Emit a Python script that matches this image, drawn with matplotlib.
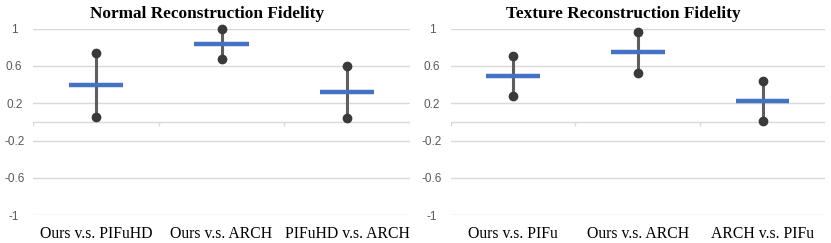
import matplotlib.pyplot as plt

# data
normal_cats = ["Ours v.s. PIFuHD", "Ours v.s. ARCH", "PIFuHD v.s. ARCH"]
normal_mean = [0.40, 0.836, 0.318]
normal_high = [0.743, 0.993, 0.60]
normal_low = [0.05, 0.679, 0.039]

texture_cats = ["Ours v.s. PIFu", "Ours v.s. ARCH", "ARCH v.s. PIFu"]
texture_mean = [0.489, 0.746, 0.225]
texture_high = [0.707, 0.96, 0.436]
texture_low = [0.275, 0.529, 0.011]

yticks = [1, 0.6, 0.2, -0.2, -0.6, -1]
ytick_labels = ["1", "0.6", "0.2", "-0.2", "-0.6", "-1"]

grid_c = "#d9d9d9"
blue = "#4472c4"
err_c = "#5f5f5f"
dot_c = "#3a3a3a"


def draw(ax, title, title_x, cats, mean, high, low):
    x = list(range(len(cats)))
    ax.set_xlim(-0.5, len(cats) - 0.5)
    ax.set_ylim(-1, 1)
    for s in ax.spines.values():
        s.set_visible(False)
    ax.set_yticks(yticks)
    ax.set_yticklabels(ytick_labels, fontsize=8.5, color="#595959",
                       family="Liberation Sans")
    for lab in ax.get_yticklabels():
        lab.set_ha("center")
    ax.tick_params(axis="y", length=0, pad=13.5)
    ax.grid(axis="y", color=grid_c, linewidth=1)
    ax.set_axisbelow(True)

    # zero axis line with category separator ticks
    ax.axhline(0, color=grid_c, linewidth=1, zorder=1)
    ax.vlines([i - 0.5 for i in range(len(cats) + 1)], -0.045, 0,
              color=grid_c, linewidth=1, zorder=1)

    ax.set_xticks(x)
    ax.set_xticklabels(cats, fontsize=11.3, family="Liberation Serif")
    ax.tick_params(axis="x", length=0, pad=8)

    ax.vlines(x, low, high, color=err_c, linewidth=2.2, zorder=2)
    ax.plot(x, high, "o", color=dot_c, markersize=6, zorder=3, clip_on=False)
    ax.plot(x, low, "o", color=dot_c, markersize=6, zorder=3, clip_on=False)
    ax.hlines(mean, [i - 0.215 for i in x], [i + 0.215 for i in x],
              color=blue, linewidth=3.2, zorder=4)

    ax.set_title(title, x=title_x, fontsize=12.4, fontweight="bold",
                 family="Liberation Serif", pad=8)


fig = plt.figure(figsize=(8.31, 2.43), dpi=100)
ax1 = fig.add_axes([0.0397, 0.114, 0.4537, 0.768])
ax2 = fig.add_axes([0.5424, 0.114, 0.4504, 0.768])

draw(ax1, "Normal Reconstruction Fidelity", 0.463, normal_cats, normal_mean, normal_high, normal_low)
draw(ax2, "Texture Reconstruction Fidelity", 0.460, texture_cats, texture_mean, texture_high, texture_low)

fig.savefig("out.png", dpi=100)
